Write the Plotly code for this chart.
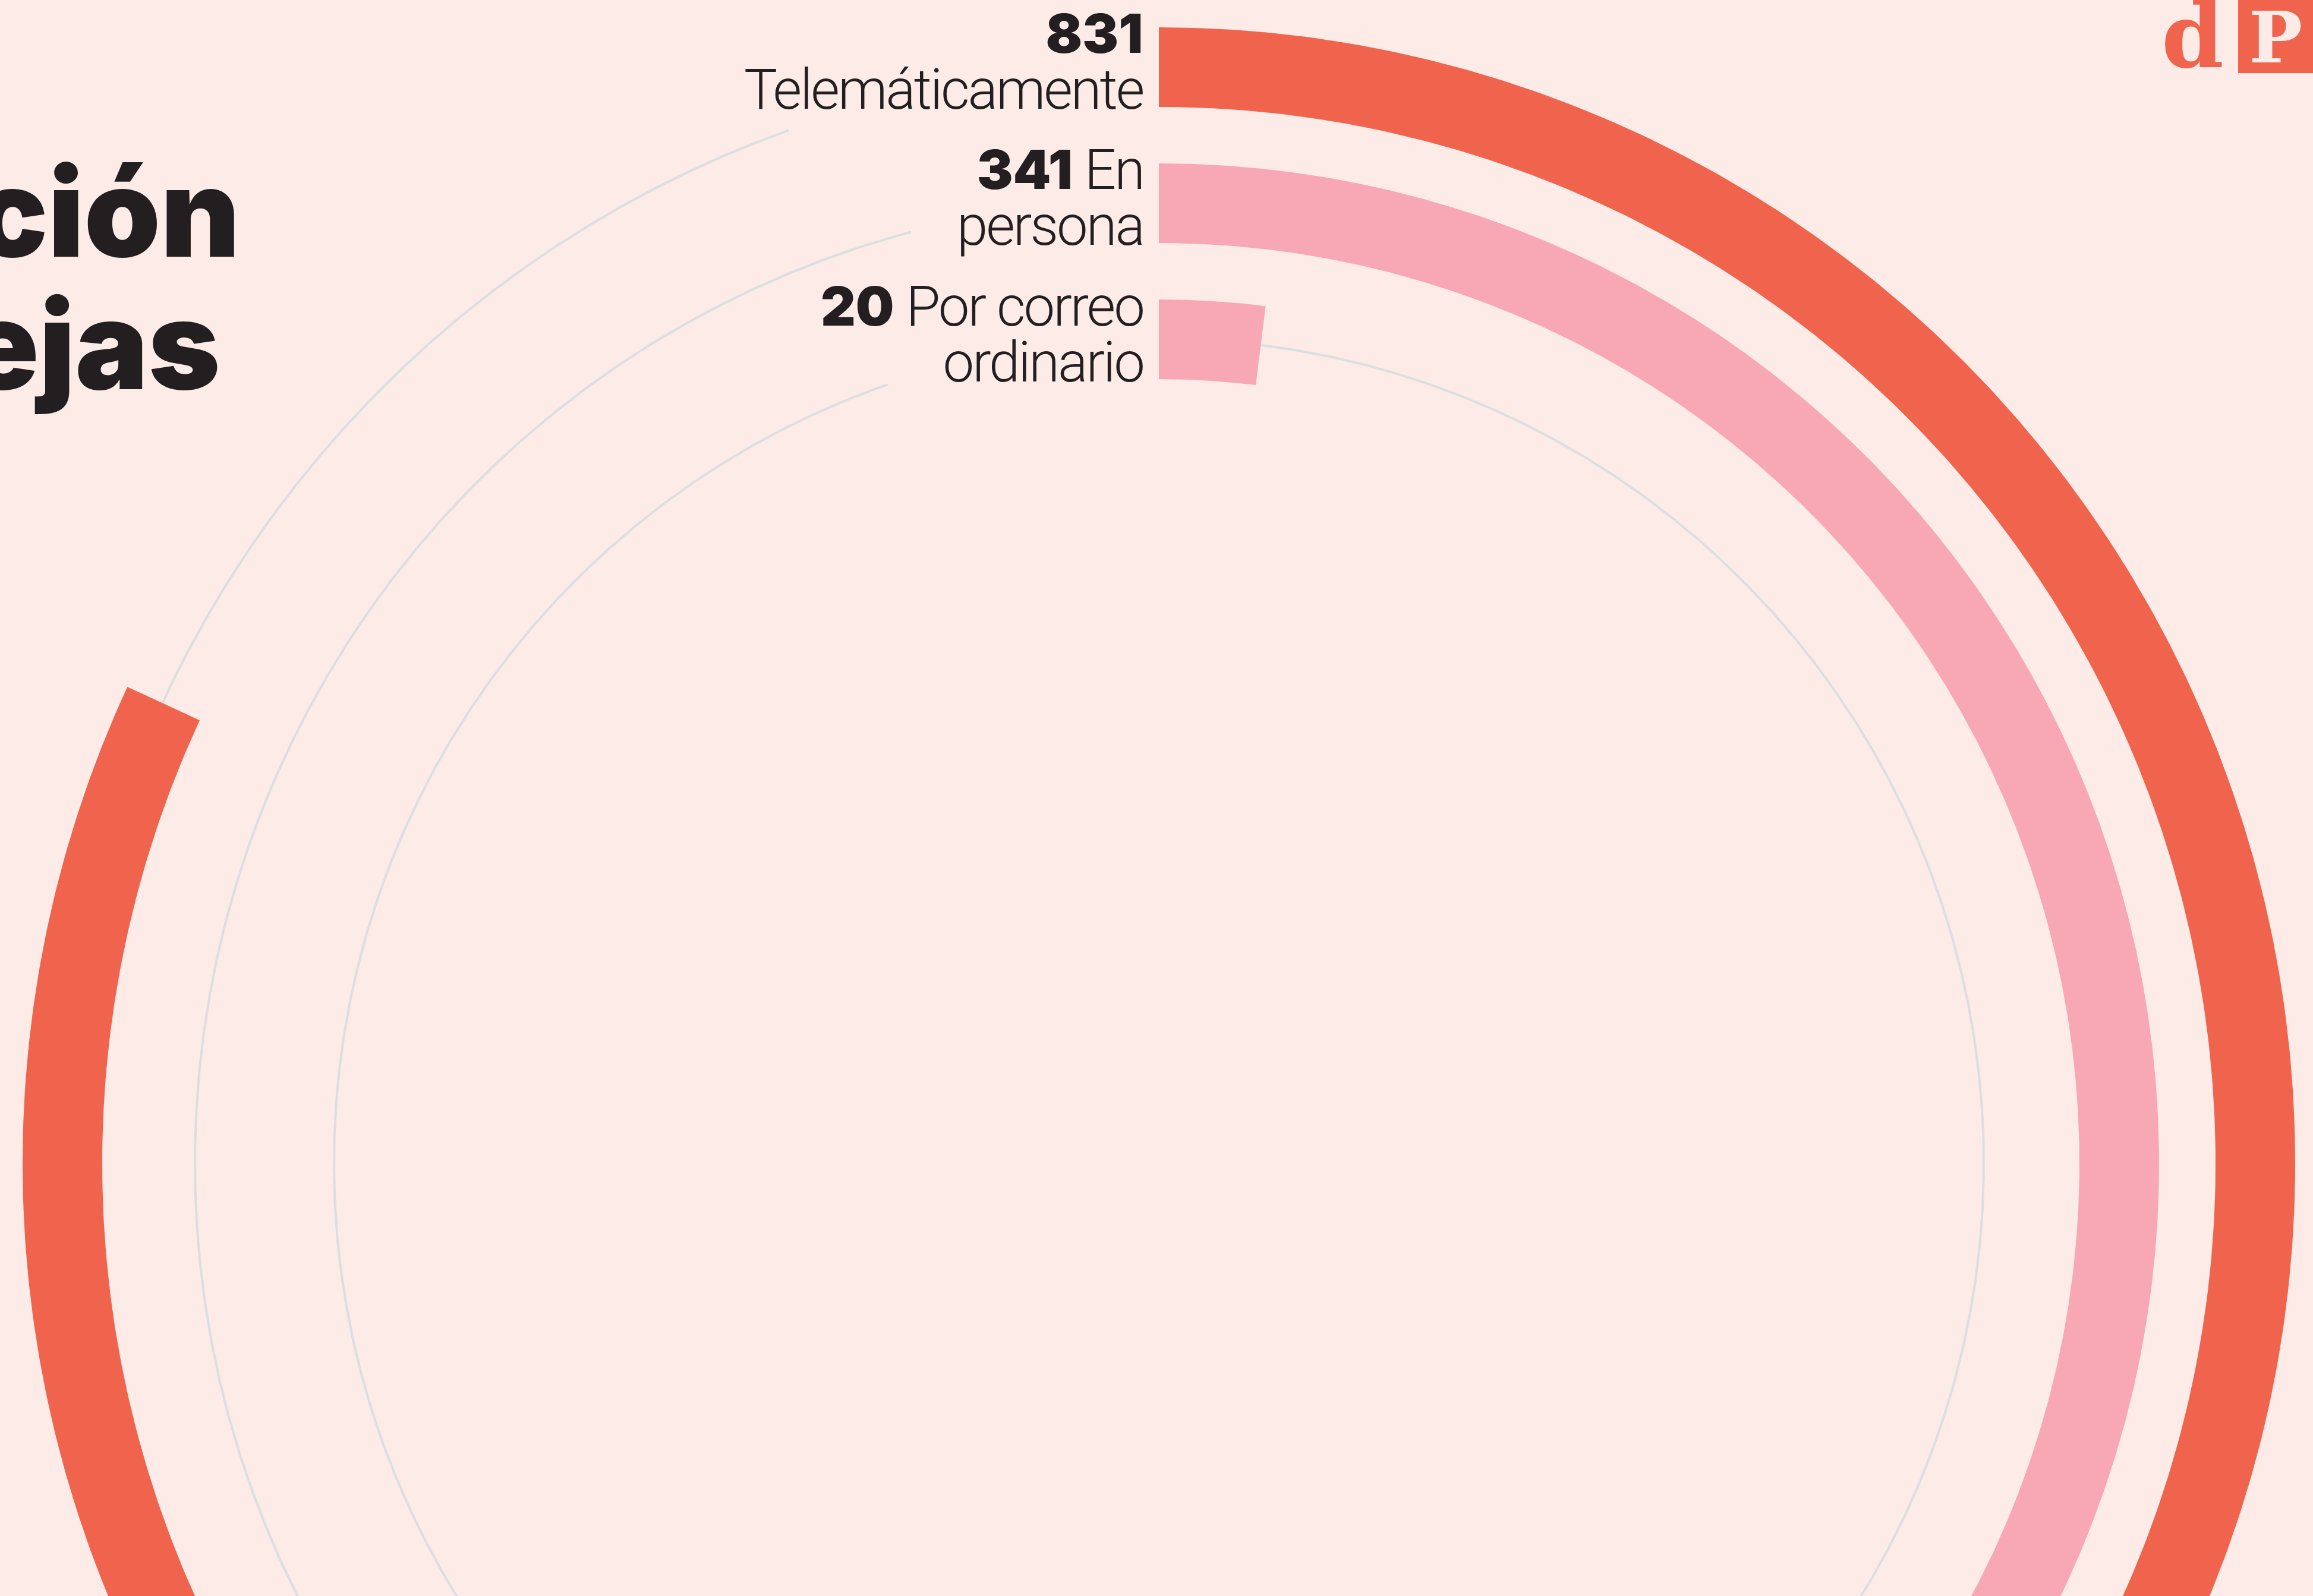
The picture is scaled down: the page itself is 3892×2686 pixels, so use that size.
import numpy as np
import plotly.graph_objects as go

# Datos: quejas según la vía de presentación
categorias = ["Telemáticamente", "En persona", "Por correo ordinario"]
quejas = [831, 341, 20]
# cómo se parte cada etiqueta en dos líneas
etiqueta_l1 = ["", "En", "Por correo"]
etiqueta_l2 = ["Telemáticamente", "persona", "ordinario"]
titulo = ["Vía de presentación", "de las quejas"]

# Estilo
FONDO = "#FCEBE7"
CORAL = "#F0644E"
ROSA = "#F7A8B4"
GRIS = "#DCDFE0"
TINTA = "#231F20"
colores = [CORAL, ROSA, ROSA]
FUENTE = "Roboto"
FUENTE_NEGRA = "Inter"

# Geometría (px, centro del círculo en 0,0)
W, H = 3892, 2686
CX, CY = 1950, 1958          # posición del centro en la imagen
ANCHO = 134                  # grosor de cada anillo
r_ext = [1912, 1683, 1454]   # radio exterior de cada anillo
r_pista = [1847, 1622, 1388]
hueco_pista = [19.7, 14.9, 19.2]   # grados libres para las etiquetas
GRADOS_MAX = 294.8                 # ángulo del valor máximo
escala = GRADOS_MAX / max(quejas)


def punto(r, ang):
    t = np.radians(ang)
    return r * np.sin(t), r * np.cos(t)


def sector(r0, r1, a0, a1, n=600):
    ang = np.linspace(a0, a1, n)
    xo, yo = punto(r1, ang)
    xi, yi = punto(r0, ang[::-1])
    return np.r_[xo, xi, xo[:1]], np.r_[yo, yi, yo[:1]]


fig = go.Figure()

# pistas grises de fondo
for r, h in zip(r_pista, hueco_pista):
    x, y = punto(r, np.linspace(0, 360 - h, 1500))
    fig.add_trace(go.Scatter(x=x, y=y, mode="lines",
                             line=dict(color=GRIS, width=4),
                             hoverinfo="skip", showlegend=False))

# barras radiales
for cat, v, r1, c in zip(categorias, quejas, r_ext, colores):
    x, y = sector(r1 - ANCHO, r1, 0, v * escala)
    fig.add_trace(go.Scatter(x=x, y=y, mode="lines", fill="toself",
                             fillcolor=c, line=dict(width=0, color=c),
                             name=cat, hoverinfo="name", showlegend=False))

# etiquetas: dos líneas, interlineado de 94 px
FS = 94
INTER = 94
TXT = "<span style='letter-spacing:-3px;font-size:%dpx'>{}</span>" % FS
NUM = ("<span style='font-family:Inter;font-weight:900;font-size:91px'>"
       "{}</span>")
anots = []
base1 = [90, 319, 549]
for i, v in enumerate(quejas):
    l1 = NUM.format(v)
    if etiqueta_l1[i]:
        l1 += TXT.format(" " + etiqueta_l1[i])
    txt = l1 + "<br>" + TXT.format(etiqueta_l2[i])
    fondo_txt = base1[i] + INTER + 0.244 * FS + 1
    anots.append(dict(x=-24, y=CY - fondo_txt, text=txt,
                      xanchor="right", yanchor="bottom", align="right",
                      showarrow=False,
                      font=dict(family=FUENTE, size=INTER / 1.3, color=TINTA,
                                weight=300)))

# título (recortado por el borde izquierdo)
TS = 206
for txt, b, xr in [(titulo[0], 433, 406), (titulo[1], 656, 373)]:
    anots.append(dict(x=xr - CX, y=CY - (b + 0.242 * TS + 1), text=txt,
                      xanchor="right", yanchor="bottom", showarrow=False,
                      font=dict(family=FUENTE_NEGRA, size=TS, color=TINTA,
                                weight=900)))

# logo
anots.append(dict(x=3689 - CX, y=CY - 150, text="d", xanchor="center",
                  yanchor="bottom", showarrow=False,
                  font=dict(family="DejaVu Serif", size=150, color=CORAL,
                            weight=700)))
anots.append(dict(x=3829 - CX, y=CY - 62, text="P", xanchor="center",
                  yanchor="middle", showarrow=False,
                  font=dict(family="DejaVu Serif", size=120, color=FONDO,
                            weight=700)))

fig.update_layout(
    width=W, height=H,
    margin=dict(l=0, r=0, t=0, b=0),
    paper_bgcolor=FONDO, plot_bgcolor=FONDO,
    xaxis=dict(range=[-CX, W - CX], visible=False, fixedrange=True),
    yaxis=dict(range=[CY - H, CY], visible=False, fixedrange=True),
    annotations=anots,
    shapes=[dict(type="rect", xref="x", yref="y", x0=3766 - CX, x1=W - CX,
                 y0=CY - 123, y1=CY, fillcolor=CORAL, line=dict(width=0),
                 layer="below")],
)

fig.write_html("out.html", config={"displayModeBar": False},
               post_script="document.body.style.margin='0';"
                           "document.body.style.overflow='hidden';")
